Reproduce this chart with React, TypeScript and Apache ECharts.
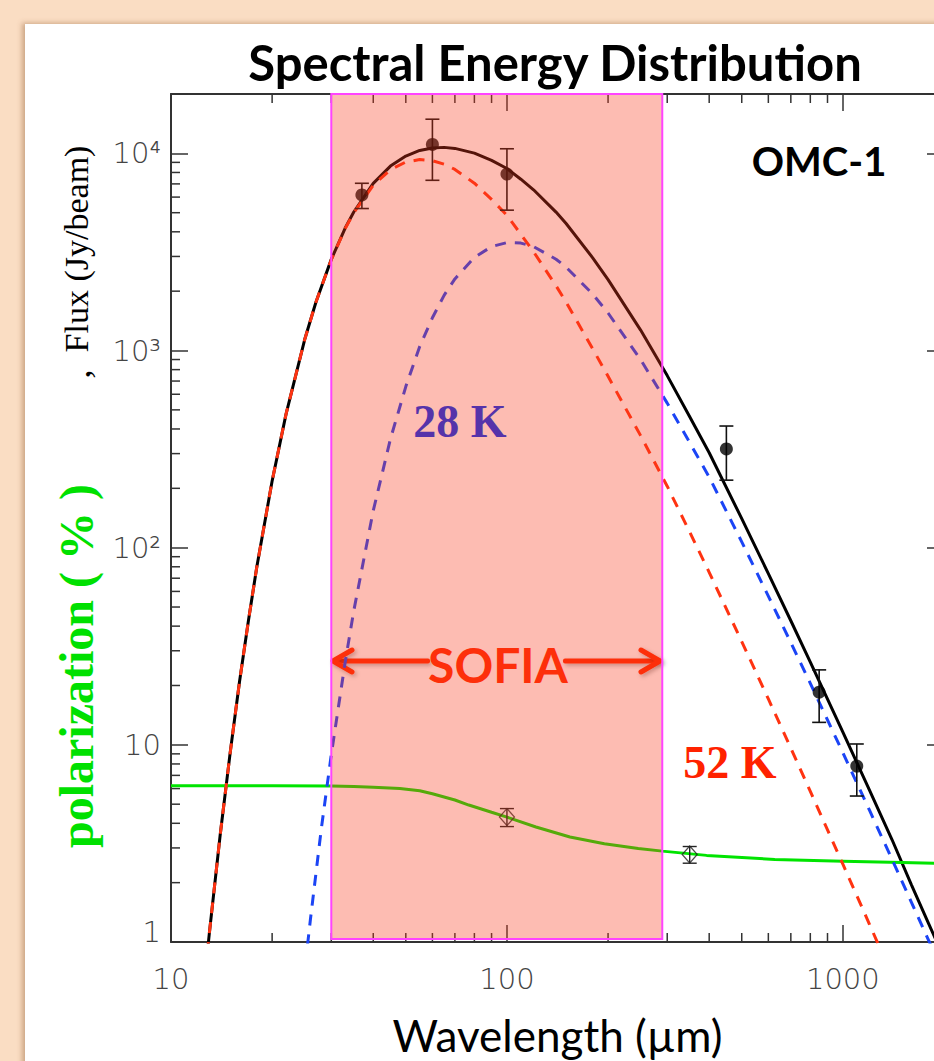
import React, { useEffect, useRef } from "react";
import * as echarts from "echarts";

// ---------- values ----------
// wavelength (µm), flux (Jy/beam)
const warm52K: [number, number][] = [
  [12, 0.275], [12.5, 0.57], [13, 1.1], [14, 3.46], [15, 9.1], [16, 21.0], [17, 42.6], [18, 79.5],
  [20, 218], [22, 476], [25, 1136], [27, 1756], [30, 2890], [33, 4155], [35, 4993], [40, 6891],
  [45, 8260], [50, 9037], [55, 9300], [60, 9180], [65, 8818], [70, 8289], [80, 7060], [90, 5842],
  [100, 4850], [110, 3888], [120, 3169], [140, 2130], [150, 1760], [180, 1020], [200, 740],
  [250, 370], [300, 205], [350, 120], [400, 75], [500, 33.4], [600, 17.1], [700, 9.62],
  [800, 5.81], [1000, 2.48], [1200, 1.23], [1400, 0.676],
];

const cold28K: [number, number][] = [
  [24, 0.38], [25, 0.72], [26, 1.3], [28, 3.72], [30, 8.92], [33, 26.3], [35, 47.8], [40, 154],
  [45, 356], [50, 656], [55, 1049], [60, 1466], [65, 1905], [70, 2308], [80, 2965], [90, 3366],
  [100, 3528], [110, 3506], [120, 3365], [140, 2905], [150, 2647], [180, 1933], [200, 1550],
  [250, 899], [300, 541], [350, 341], [400, 228], [500, 107], [600, 56.8], [700, 33.0],
  [800, 20.5], [1000, 9.12], [1200, 4.66], [1400, 2.63], [1600, 1.59], [1800, 1.02], [2000, 0.684],
];

const totalSED: [number, number][] = [
  [12, 0.275], [12.5, 0.57], [13, 1.1], [14, 3.46], [15, 9.1], [16, 21.0], [17, 42.6], [18, 79.5],
  [20, 218], [22, 476], [25, 1137], [27, 1758], [30, 2899], [33, 4181], [35, 5041], [40, 7045],
  [45, 8616], [50, 9693], [55, 10349], [60, 10646], [65, 10723], [70, 10597], [80, 10025],
  [90, 9208], [100, 8378], [110, 7394], [120, 6534], [140, 5035], [150, 4407], [180, 2953],
  [200, 2290], [250, 1269], [300, 746], [350, 461], [400, 303], [500, 140.4], [600, 73.9],
  [700, 42.6], [800, 26.3], [1000, 11.6], [1200, 5.89], [1400, 3.31], [1600, 1.95],
  [1800, 1.24], [2000, 0.83],
];

// wavelength (µm), polarization (%)
const polarizationFit: [number, number][] = [
  [10, 6.2], [20, 6.2], [30, 6.18], [35, 6.15], [40, 6.1], [48, 6.0], [55, 5.85], [60, 5.65],
  [70, 5.25], [77, 4.95], [90, 4.55], [100, 4.3], [122, 3.83], [154, 3.41], [195, 3.15],
  [246, 2.98], [290, 2.89], [393, 2.75], [627, 2.62], [1000, 2.57], [1500, 2.53], [2000, 2.5],
];

// wavelength, value, ±error
const fluxObserved: [number, number, number][] = [
  [37, 6150, 900], [60, 11100, 3800], [100, 7850, 2700], [450, 317, 97], [850, 18.5, 5.5], [1100, 7.8, 2.3],
];
const polObserved: [number, number, number][] = [
  [100, 4.3, 0.45], [350, 2.78, 0.27],
];

const sofiaBand: [number, number] = [30, 290];
const xRange: [number, number] = [10, 2000];
const yRange: [number, number] = [1, 20000];
const xTickLabels = ["10", "100", "1000"];
const yTickLabels = ["{up|1}", "10", "10²", "10³", "10⁴"];
const xMinorTicks = [20, 30, 40, 50, 60, 70, 80, 90, 200, 300, 400, 500, 600, 700, 800, 900];
const yMinorTicks = [
  2, 3, 4, 5, 6, 7, 8, 9, 20, 30, 40, 50, 60, 70, 80, 90,
  200, 300, 400, 500, 600, 700, 800, 900, 2000, 3000, 4000, 5000, 6000, 7000, 8000, 9000,
];

// ---------- styling ----------
const AXIS = "#333";
const RED = "#FF2A00";
const labelFont = { fontFamily: "DejaVu Sans", fontWeight: 200 as any, fontSize: 29, color: "#444" };

function decadeLabel(v: number, labels: string[], offset: number) {
  const e = Math.log10(v);
  const r = Math.round(e);
  if (Math.abs(e - r) > 1e-6) return "";
  return labels[r - offset] ?? "";
}

const logAxisCommon = {
  type: "log" as const,
  logBase: 10,
  splitLine: { show: false },
  minorTick: { show: false },
  axisLine: { show: true, lineStyle: { color: AXIS, width: 2 } },
  axisTick: { show: true, inside: true, length: 17, lineStyle: { color: AXIS, width: 1.5 } },
};

function errorBarRenderer(color: string, width: number, hw: number) {
  return (_params: any, api: any) => {
    const x = api.value(0);
    const y = api.value(1);
    const e = api.value(2);
    const top = api.coord([x, y + e]);
    const bot = api.coord([x, y - e]);
    const style = { stroke: color, lineWidth: width };
    return {
      type: "group",
      children: [
        { type: "line", shape: { x1: top[0], y1: top[1], x2: bot[0], y2: bot[1] }, style },
        { type: "line", shape: { x1: top[0] - hw, y1: top[1], x2: top[0] + hw, y2: top[1] }, style },
        { type: "line", shape: { x1: bot[0] - hw, y1: bot[1], x2: bot[0] + hw, y2: bot[1] }, style },
      ],
    };
  };
}

const MINOR_LEN = 9;
const shadow = { shadowBlur: 4, shadowColor: "rgba(0,0,0,0.3)", shadowOffsetX: 2, shadowOffsetY: 2 };

function rotatedText(x: number, y: number, text: string, fontSize: number, fill: string, bold: boolean) {
  return {
    type: "text",
    x,
    y,
    rotation: Math.PI / 2,
    z: 100,
    style: {
      text,
      fontFamily: "Liberation Serif",
      fontWeight: bold ? "bold" : "normal",
      fontSize,
      fill,
      align: "center",
      verticalAlign: "middle",
    },
  };
}

const option: any = {
  animation: false,
  backgroundColor: "transparent",
  grid: { left: 171, top: 94, right: 16, bottom: 119, containLabel: false, outerBoundsMode: "none" },
  xAxis: [
    {
      ...logAxisCommon,
      min: xRange[0],
      max: xRange[1],
      position: "bottom",
      axisLabel: { ...labelFont, margin: 22, formatter: (v: number) => decadeLabel(v, xTickLabels, 1) },
      name: "Wavelength (µm)",
      nameLocation: "middle",
      nameGap: 71,
      nameTextStyle: { fontFamily: "Lato", fontSize: 44, color: "#000" },
    },
    {
      ...logAxisCommon,
      min: xRange[0],
      max: xRange[1],
      position: "top",
      axisLabel: { show: false },
    },
  ],
  yAxis: [
    {
      ...logAxisCommon,
      min: yRange[0],
      max: yRange[1],
      position: "left",
      axisLabel: {
        ...labelFont,
        margin: 10,
        formatter: (v: number) => decadeLabel(v, yTickLabels, 0),
        rich: { up: { ...labelFont, padding: [0, 0, 20, 0] } },
      },
    },
    {
      ...logAxisCommon,
      min: yRange[0],
      max: yRange[1],
      position: "right",
      axisLabel: { show: false },
    },
  ],
  series: [
    {
      name: "total",
      type: "line",
      data: totalSED,
      showSymbol: false,
      symbol: "none",
      lineStyle: { color: "#000", width: 3 },
      z: 2,
    },
    {
      name: "polarization",
      type: "line",
      data: polarizationFit,
      showSymbol: false,
      symbol: "none",
      lineStyle: { color: "#00E400", width: 3 },
      z: 2,
    },
    {
      name: "28 K",
      type: "line",
      data: cold28K,
      showSymbol: false,
      symbol: "none",
      lineStyle: { color: "#1B44F5", width: 3, type: [11, 9] },
      z: 3,
    },
    {
      name: "52 K",
      type: "line",
      data: warm52K,
      showSymbol: false,
      symbol: "none",
      lineStyle: { color: "#FF3311", width: 3, type: [11, 9] },
      z: 4,
    },
    {
      name: "flux error",
      type: "custom",
      data: fluxObserved,
      encode: { x: 0, y: 1 },
      renderItem: errorBarRenderer("#111", 1.6, 7),
      z: 5,
    },
    {
      name: "flux",
      type: "scatter",
      data: fluxObserved.map((d) => [d[0], d[1]]),
      symbol: "circle",
      symbolSize: 13,
      itemStyle: { color: "#000" },
      z: 6,
    },
    {
      name: "pol error",
      type: "custom",
      data: polObserved,
      encode: { x: 0, y: 1 },
      renderItem: errorBarRenderer("#222", 1.4, 7),
      z: 5,
    },
    {
      name: "pol",
      type: "scatter",
      data: polObserved.map((d) => [d[0], d[1]]),
      symbol: "diamond",
      symbolSize: [15, 17],
      itemStyle: { color: "rgba(0,0,0,0)", borderColor: "#222", borderWidth: 1.3 },
      z: 6,
    },
    {
      name: "SOFIA band",
      type: "custom",
      data: [[sofiaBand[0], yRange[0] * 1.035, sofiaBand[1], yRange[1]]],
      encode: { x: [0, 2], y: [1, 3] },
      renderItem: (_p: any, api: any) => {
        const a = api.coord([api.value(0), api.value(1)]);
        const b = api.coord([api.value(2), api.value(3)]);
        return {
          type: "rect",
          shape: { x: a[0], y: b[1], width: b[0] - a[0], height: a[1] - b[1] },
          style: { fill: "rgba(250,58,28,0.34)", stroke: "#FF44FF", lineWidth: 2 },
        };
      },
      z: 8,
    },
    {
      name: "x minor ticks",
      type: "custom",
      data: xMinorTicks.map((v) => [v, yRange[0]]),
      encode: { x: 0, y: 1 },
      renderItem: (_p: any, api: any) => {
        const v = api.value(0);
        const b = api.coord([v, yRange[0]]);
        const t = api.coord([v, yRange[1]]);
        const style = { stroke: AXIS, lineWidth: 1.5 };
        return {
          type: "group",
          children: [
            { type: "line", shape: { x1: b[0], y1: b[1], x2: b[0], y2: b[1] - MINOR_LEN }, style },
            { type: "line", shape: { x1: t[0], y1: t[1], x2: t[0], y2: t[1] + MINOR_LEN }, style },
          ],
        };
      },
      z: 1,
    },
    {
      name: "y minor ticks",
      type: "custom",
      data: yMinorTicks.map((v) => [xRange[0], v]),
      encode: { x: 0, y: 1 },
      renderItem: (_p: any, api: any) => {
        const v = api.value(1);
        const l = api.coord([xRange[0], v]);
        const r = api.coord([xRange[1], v]);
        const style = { stroke: AXIS, lineWidth: 1.5 };
        return {
          type: "group",
          children: [
            { type: "line", shape: { x1: l[0], y1: l[1], x2: l[0] + MINOR_LEN, y2: l[1] }, style },
            { type: "line", shape: { x1: r[0], y1: r[1], x2: r[0] - MINOR_LEN, y2: r[1] }, style },
          ],
        };
      },
      z: 1,
    },
  ],
  graphic: [
    {
      type: "text",
      x: 555,
      y: 62,
      z: 100,
      style: {
        text: "Spectral Energy Distribution",
        fontFamily: "Lato",
        fontWeight: "bold",
        fontSize: 49,
        fill: "#000",
        align: "center",
        verticalAlign: "middle",
      },
    },
    {
      type: "text",
      x: 819,
      y: 161,
      z: 100,
      style: {
        text: "OMC-1",
        fontFamily: "Lato",
        fontWeight: "bold",
        fontSize: 40,
        fill: "#000",
        align: "center",
        verticalAlign: "middle",
      },
    },
    {
      type: "text",
      x: 460,
      y: 421,
      z: 100,
      style: {
        text: "28 K",
        fontFamily: "Liberation Serif",
        fontWeight: "bold",
        fontSize: 46,
        fill: "#5533AA",
        align: "center",
        verticalAlign: "middle",
      },
    },
    {
      type: "text",
      x: 730,
      y: 762,
      z: 100,
      style: {
        text: "52 K",
        fontFamily: "Liberation Serif",
        fontWeight: "bold",
        fontSize: 46,
        fill: "#FF2200",
        align: "center",
        verticalAlign: "middle",
      },
    },
    // y-axis title: green polarization part, black comma, black flux part
    rotatedText(76, 666, "polarization ( % )", 48, "#00E000", true),
    rotatedText(78, 374, ",", 36, "#000", false),
    rotatedText(76, 249, "Flux (Jy/beam)", 34, "#000", false),
    // SOFIA arrows
    {
      type: "group",
      z: 100,
      children: [
        {
          type: "rect",
          shape: { x: 333, y: 658.5, width: 97, height: 5, r: 2 },
          style: { fill: RED, ...shadow },
        },
        {
          type: "polyline",
          shape: { points: [[352, 650], [333, 661], [352, 672]] },
          style: { stroke: RED, lineWidth: 5, lineCap: "round", lineJoin: "round", fill: "none", ...shadow },
        },
        {
          type: "rect",
          shape: { x: 563, y: 658.5, width: 97, height: 5, r: 2 },
          style: { fill: RED, ...shadow },
        },
        {
          type: "polyline",
          shape: { points: [[641, 650], [660, 661], [641, 672]] },
          style: { stroke: RED, lineWidth: 5, lineCap: "round", lineJoin: "round", fill: "none", ...shadow },
        },
        {
          type: "text",
          x: 498,
          y: 664,
          style: {
            text: "SOFIA",
            fontFamily: "Lato",
            fontWeight: "bold",
            fontSize: 48,
            fill: RED,
            align: "center",
            verticalAlign: "middle",
            ...shadow,
          },
        },
      ],
    },
  ],
};

export default function App() {
  const ref = useRef<HTMLDivElement>(null);
  useEffect(() => {
    if (!ref.current) return;
    const chart = echarts.init(ref.current, null, { renderer: "svg" });
    chart.setOption(option);
    return () => chart.dispose();
  }, []);
  return (
    <div
      style={{
        position: "fixed",
        left: 0,
        top: 0,
        width: 934,
        height: 1061,
        overflow: "hidden",
        background: "#FADDC3",
      }}
    >
      <div
        style={{
          position: "absolute",
          left: 25,
          top: 24,
          right: -20,
          bottom: -20,
          background: "#ffffff",
          boxShadow: "-3px -1px 5px rgba(150,100,60,0.45)",
        }}
      />
      <div ref={ref} style={{ position: "absolute", left: 0, top: 0, width: 960, height: 1061 }} />
    </div>
  );
}
